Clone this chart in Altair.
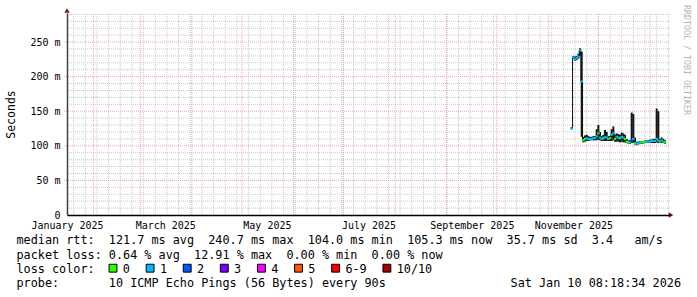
import altair as alt
import pandas as pd

# ---------------- data ----------------
day_start = "2025-11-15"
day_end = "2026-01-10"
median_ms = [125, 228, 225, 227, 229, 238, 193, 108, 110, 111, 110, 110, 110, 111, 111, 114,
             118, 112, 110, 111, 113, 112, 110, 111, 116, 118, 110, 113, 112, 111, 113, 112,
             110, 106, 105, 105, 108, 110, 104, 103, 104, 105, 105, 105, 106, 106, 106, 106,
             107, 107, 107, 110, 108, 106, 108, 106, 105]
smoke_lo = [124, 226, 223, 224, 226, 230, 113, 105, 106, 107, 107, 108, 108, 108, 108, 108,
            109, 108, 107, 107, 107, 107, 107, 107, 107, 108, 106, 106, 106, 105, 106, 105,
            105, 104, 103, 103, 104, 104, 102, 101, 102, 103, 103, 103, 104, 104, 104, 104,
            104, 104, 104, 105, 104, 104, 104, 104, 103]
smoke_hi = [127, 230, 229, 230, 233, 241, 236, 113, 115, 116, 114, 113, 113, 114, 114, 124,
            130, 120, 114, 116, 123, 120, 114, 114, 124, 128, 116, 118, 117, 116, 119, 118,
            116, 110, 108, 108, 148, 146, 112, 106, 106, 107, 107, 107, 108, 108, 108, 109,
            109, 110, 110, 154, 150, 110, 112, 110, 108]
loss_idx = [1, 1, 1, 1, 1, 1, 1, 0, 0, 1, 1, 1, 1, 1, 1, 1,
            0, 1, 1, 0, 1, 1, 1, 0, 1, 1, 0, 1, 1, 0, 1, 1,
            0, 0, 0, 1, 2, 1, 0, 1, 1, 1, 0, 0, 0, 1, 1, 1,
            1, 1, 1, 1, 1, 0, 1, 1, 0]

loss_labels = ["0", "1", "2", "3", "4", "5", "6-9", "10/10"]
loss_colors = ["#26ff00", "#00b8ff", "#0059ff", "#7e00ff", "#ff00ff", "#ff5500", "#ff0000", "#a10000"]

y_tick_values = [0, 50, 100, 150, 200, 250]
x_label_dates = ["2025-01-16", "2025-03-16", "2025-05-16", "2025-07-16", "2025-09-16", "2025-11-16"]
x_domain_dates = ["2025-01-16", "2026-01-13"]

line_rtt = "median rtt:  121.7 ms avg  240.7 ms max  104.0 ms min  105.3 ms now  35.7 ms sd  3.4   am/s"
line_loss = "packet loss: 0.64 % avg  12.91 % max  0.00 % min  0.00 % now"
line_color = "loss color:"
line_probe = "probe:       10 ICMP Echo Pings (56 Bytes) every 90s"
stamp = "Sat Jan 10 08:18:34 2026"
watermark = "RRDTOOL / TOBI OETIKER"
y_title = "Seconds"

# ---------------- tables ----------------
def ms(s):
    return int(pd.Timestamp(s, tz="UTC").value // 10**6)


dates = pd.date_range(day_start, day_end, freq="D", tz="UTC")
df = pd.DataFrame({
    "date": [int(d.value // 10**6) for d in dates],
    "median": median_ms,
    "lo": smoke_lo,
    "hi": smoke_hi,
    "loss": loss_idx,
})

Y_MAX = 292
weeks = pd.date_range("2025-01-20", "2026-01-12", freq="W-MON", tz="UTC")
months = pd.date_range("2025-02-01", "2026-01-01", freq="MS", tz="UTC")
week_lines = pd.DataFrame({"date": [int(d.value // 10**6) for d in weeks], "y0": 0, "y1": Y_MAX})
month_lines = pd.DataFrame({"date": [int(d.value // 10**6) for d in months], "y0": 0, "y1": Y_MAX})
minor_y = pd.DataFrame({"v": [v for v in range(10, 300, 10) if v % 50 != 0]})
major_y = pd.DataFrame({"v": [50, 100, 150, 200, 250]})

FONT = "DejaVu Sans Mono"
W, H = 603, 202

x_scale = alt.Scale(type="utc", domain=[ms(s) for s in x_domain_dates])
y_scale = alt.Scale(domain=[0, Y_MAX], nice=False)

grid_minor = "#c9c9c9"
grid_major = "#eba5a5"

x_axis = alt.Axis(
    values=[ms(s) for s in x_label_dates], format="%B %Y",
    grid=False, ticks=False, labelFlush=False, labelOverlap=False,
    labelFont=FONT, labelFontSize=10, labelColor="#000000", labelBaseline="alphabetic",
    labelPadding=13, domainColor="#000000", domainWidth=1.5, title=None, zindex=1,
)
y_axis = alt.Axis(
    values=y_tick_values, labelExpr="datum.value == 0 ? '0' : datum.value + ' m'",
    grid=False, ticks=False, labelFont=FONT, labelFontSize=10, labelColor="#000000",
    labelPadding=7, domainColor="#404040", domainWidth=1.5, zindex=1,
    title=y_title, titleFont=FONT, titleFontSize=11.5, titleFontWeight="normal", titleColor="#000000",
    titleAngle=270, titleX=-56, titleY=H / 2, titleAlign="center", titleBaseline="middle",
)

vgrid_minor = alt.Chart(week_lines).mark_rule(color=grid_minor, strokeDash=[1, 1], strokeWidth=1).encode(
    x=alt.X("date:T", scale=x_scale, axis=x_axis),
    y=alt.Y("y0:Q", scale=y_scale, axis=y_axis), y2="y1:Q",
)
hgrid_minor = alt.Chart(minor_y).mark_rule(color=grid_minor, strokeDash=[1, 1], strokeWidth=1).encode(
    y=alt.Y("v:Q", scale=y_scale, axis=y_axis),
    x=alt.value(0), x2=alt.value(W),
)
vgrid_major = alt.Chart(month_lines).mark_rule(color=grid_major, strokeDash=[1, 1], strokeWidth=1).encode(
    x=alt.X("date:T", scale=x_scale, axis=x_axis),
    y=alt.Y("y0:Q", scale=y_scale, axis=y_axis), y2="y1:Q",
)
hgrid_major = alt.Chart(major_y).mark_rule(color=grid_major, strokeDash=[1, 1], strokeWidth=1).encode(
    y=alt.Y("v:Q", scale=y_scale, axis=y_axis),
    x=alt.value(-3), x2=alt.value(W),
)

smoke = alt.Chart(df).mark_rule(color="#151515", strokeWidth=2).encode(
    x=alt.X("date:T", scale=x_scale, axis=x_axis),
    y=alt.Y("lo:Q", scale=y_scale, axis=y_axis),
    y2="hi:Q",
)
med_line = alt.Chart(df).mark_line(color="#111111", strokeWidth=1, interpolate="step").encode(
    x=alt.X("date:T", scale=x_scale, axis=x_axis),
    y=alt.Y("median:Q", scale=y_scale, axis=y_axis),
)
med_ticks = alt.Chart(df).mark_tick(orient="horizontal", size=2.6, thickness=2, opacity=1).encode(
    x=alt.X("date:T", scale=x_scale, axis=x_axis),
    y=alt.Y("median:Q", scale=y_scale, axis=y_axis),
    color=alt.Color("loss:O", scale=alt.Scale(domain=list(range(8)), range=loss_colors), legend=None),
)

arrow_color = "#8b1010"
arrow_up = alt.Chart(pd.DataFrame({"a": [0]})).mark_point(
    shape="triangle-up", filled=True, size=28, color=arrow_color, opacity=1
).encode(x=alt.value(0), y=alt.value(-2.5))
arrow_right = alt.Chart(pd.DataFrame({"a": [0]})).mark_point(
    shape="triangle-right", filled=True, size=28, color=arrow_color, opacity=1
).encode(x=alt.value(W + 1), y=alt.value(H))

LEFT = 67
TOP = 13
TXT = 11.8


def text_layer(s, x, y, align="left", size=TXT, color="#000000", angle=0, baseline="alphabetic"):
    shown = s.replace(" ", "\u00a0")  # keep runs of spaces in SVG
    return alt.Chart(pd.DataFrame({"t": [shown]})).mark_text(
        font=FONT, fontSize=size, color=color, align=align, baseline=baseline, angle=angle
    ).encode(x=alt.value(x - LEFT), y=alt.value(y - TOP), text="t:N")


texts = [
    text_layer(line_rtt, 16.5, 244),
    text_layer(line_loss, 16.5, 258.5),
    text_layer(line_color, 16.5, 272.5),
    text_layer(line_probe, 16.5, 286.5),
    text_layer(stamp, 681, 286.5, align="right"),
    text_layer(watermark, 686, 5, size=8.3, color="#b4b4b4", angle=90, baseline="middle"),
]

legend_layers = []
cx = 113.0
for lab, col in zip(loss_labels, loss_colors):
    legend_layers.append(
        alt.Chart(pd.DataFrame({"a": [0]})).mark_square(
            size=62, color=col, stroke="#000000", strokeWidth=1, opacity=1, filled=True
        ).encode(x=alt.value(cx - LEFT), y=alt.value(268.2 - TOP))
    )
    legend_layers.append(text_layer(lab, cx + 9.8, 272.5))
    cx += 15 + len(lab) * 7.1 + 15

chart = alt.layer(
    vgrid_minor, hgrid_minor, vgrid_major, hgrid_major,
    smoke, med_line, med_ticks, arrow_up, arrow_right, *texts, *legend_layers,
).properties(
    width=W, height=H,
    padding={"left": LEFT, "top": TOP, "right": 697 - LEFT - W, "bottom": 297 - TOP - H},
    autosize=alt.AutoSizeParams(type="none"),
    background="#ffffff",
).configure_view(strokeWidth=0)

chart.save("out.html", embed_options={"renderer": "svg", "actions": False})
